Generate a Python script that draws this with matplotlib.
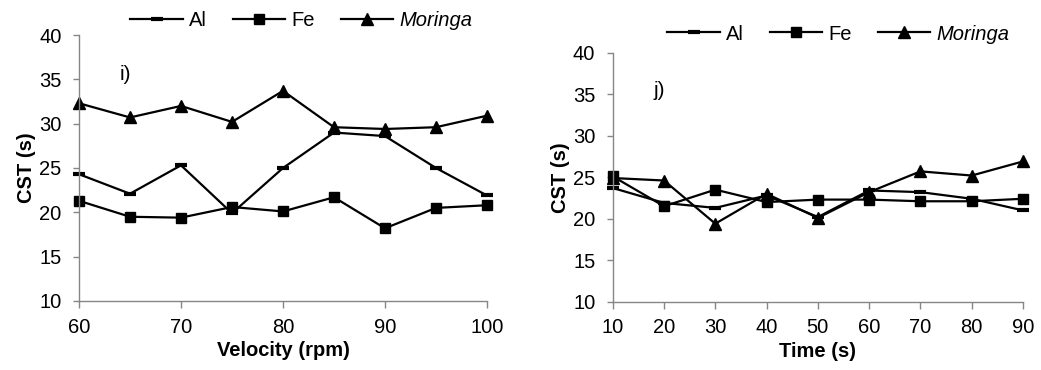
import matplotlib

matplotlib.use("Agg")
import matplotlib.pyplot as plt

plt.rcParams["font.family"] = ["Liberation Sans", "DejaVu Sans"]

# Panel i) CST vs mixing velocity
velocity = [60, 65, 70, 75, 80, 85, 90, 95, 100]
al_vel = [24.3, 22.1, 25.3, 19.9, 25.0, 29.0, 28.6, 25.0, 21.9]
fe_vel = [21.3, 19.5, 19.4, 20.6, 20.1, 21.7, 18.2, 20.5, 20.8]
mor_vel = [32.3, 30.7, 32.0, 30.2, 33.7, 29.6, 29.4, 29.6, 30.9]

# Panel j) CST vs mixing time
time_s = [10, 20, 30, 40, 50, 60, 70, 80, 90]
al_time = [23.7, 21.9, 21.3, 22.8, 20.2, 23.4, 23.2, 22.4, 21.0]
fe_time = [25.1, 21.5, 23.5, 22.0, 22.3, 22.3, 22.1, 22.1, 22.4]
mor_time = [24.9, 24.6, 19.4, 23.0, 20.1, 23.2, 25.7, 25.2, 26.9]

SPINE = "#868686"
FS = 14.5

fig = plt.figure(figsize=(10.41, 3.70), dpi=100)
ax1 = fig.add_axes([0.0759, 0.1865, 0.3919, 0.7189])
ax2 = fig.add_axes([0.5886, 0.1846, 0.3941, 0.6730])


def draw(ax, x, al, fe, mor, xlabel, tag, xticks, legend_xy):
    ax.plot(x, al, color="black", lw=1.6, marker="_", ms=8, mew=3,
            label="Al", clip_on=False)
    ax.plot(x, fe, color="black", lw=1.6, marker="s", ms=7.5,
            label="Fe", clip_on=False)
    ax.plot(x, mor, color="black", lw=1.6, marker="^", ms=8,
            label="Moringa", clip_on=False)
    ax.set_xlim(x[0], x[-1])
    ax.set_ylim(10, 40)
    ax.set_xticks(xticks)
    ax.set_yticks(range(10, 41, 5))
    for s in ("top", "right"):
        ax.spines[s].set_visible(False)
    for s in ("left", "bottom"):
        ax.spines[s].set_color(SPINE)
        ax.spines[s].set_linewidth(1.0)
    ax.tick_params(axis="both", colors=SPINE, labelcolor="black",
                   labelsize=FS, width=1.0, direction="out")
    ax.tick_params(axis="y", length=4.5, pad=8)
    ax.tick_params(axis="x", length=5, pad=7)
    ax.set_xlabel(xlabel, fontsize=FS, fontweight="bold", labelpad=3)
    ax.set_ylabel("CST (s)", fontsize=FS, fontweight="bold", labelpad=2)
    ax.text(0.10, 0.85, tag, transform=ax.transAxes, fontsize=15,
            ha="left", va="center")
    leg = ax.legend(loc="center", bbox_to_anchor=legend_xy, ncol=3,
                    frameon=False, fontsize=FS, handlelength=2.6,
                    handletextpad=0.3, columnspacing=1.3, borderaxespad=0)
    leg.get_texts()[2].set_fontstyle("italic")


draw(ax1, velocity, al_vel, fe_vel, mor_vel, "Velocity (rpm)", "i)",
     range(60, 101, 10), (0.545, 1.055))
draw(ax2, time_s, al_time, fe_time, mor_time, "Time (s)", "j)",
     range(10, 91, 10), (0.55, 1.075))

fig.savefig("out.png", dpi=100)
